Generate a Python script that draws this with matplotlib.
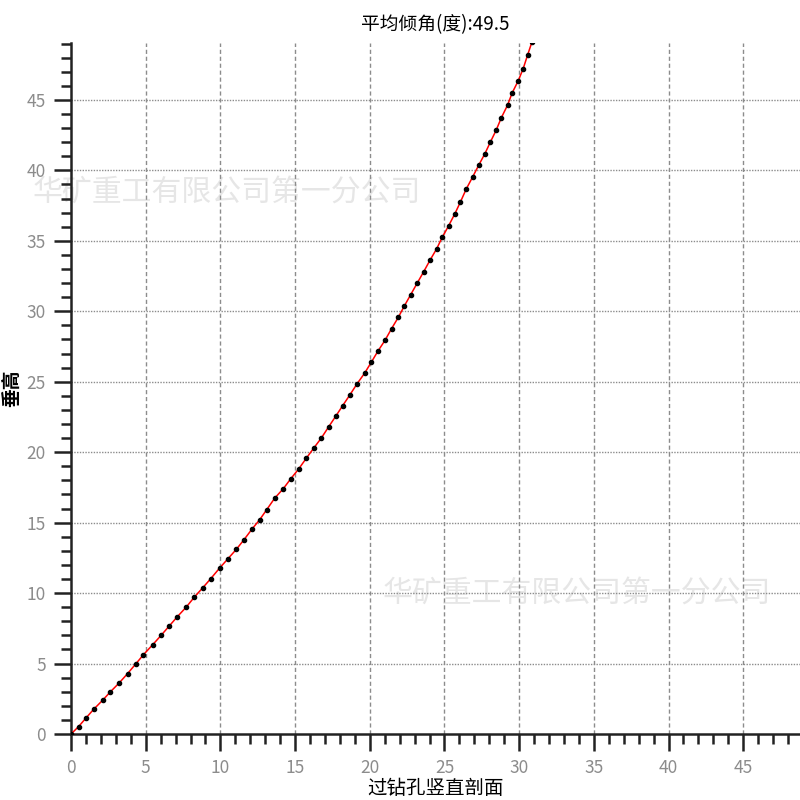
"""Borehole vertical section: horizontal offset vs vertical height."""
import matplotlib

matplotlib.use("Agg")
import matplotlib.pyplot as plt
from matplotlib.ticker import MultipleLocator

plt.rcParams["font.family"] = ["Noto Sans CJK SC", "DejaVu Sans"]

TITLE = "平均倾角(度):49.5"
XLABEL = "过钻孔竖直剖面"
YLABEL = "垂高"
WATERMARK = "华矿重工有限公司第一分公司"

# survey points (horizontal offset, vertical height)
offset = [0.0, 0.50, 1.02, 1.53, 2.11, 2.64, 3.22, 3.78, 4.33, 4.85, 5.47,
          6.03, 6.57, 7.12, 7.70, 8.26, 8.82, 9.35, 9.95, 10.49, 11.07,
          11.58, 12.12, 12.63, 13.10, 13.63, 14.21, 14.70, 15.24, 15.75,
          16.27, 16.76, 17.24, 17.72, 18.19, 18.67, 19.14, 19.65, 20.10,
          20.55, 21.02, 21.46, 21.91, 22.31, 22.74, 23.17, 23.60, 24.03,
          24.47, 24.85, 25.27, 25.70, 26.07, 26.45, 26.88, 27.30, 27.70,
          28.07, 28.46, 28.81, 29.22, 29.53, 29.93, 30.27, 30.56, 30.85]
height = [0.0, 0.52, 1.16, 1.77, 2.39, 3.00, 3.62, 4.28, 4.97, 5.63, 6.34,
          7.00, 7.66, 8.33, 8.99, 9.72, 10.38, 11.02, 11.78, 12.42, 13.11,
          13.79, 14.55, 15.21, 15.92, 16.73, 17.41, 18.10, 18.81, 19.57,
          20.32, 21.01, 21.79, 22.55, 23.31, 24.07, 24.84, 25.60, 26.38,
          27.18, 27.94, 28.77, 29.57, 30.37, 31.18, 31.99, 32.79, 33.62,
          34.42, 35.25, 36.05, 36.93, 37.76, 38.66, 39.52, 40.38, 41.17,
          42.00, 42.85, 43.74, 44.62, 45.49, 46.34, 47.22, 48.17, 49.09]

fig = plt.figure(figsize=(8, 8), dpi=100)
ax = fig.add_axes([0.0888, 0.0825, 0.9112, 0.864])

ax.set_xlim(0, 48.8)
ax.set_ylim(0, 49.05)

ax.plot(offset, height, color="red", lw=1.1, zorder=3)
ax.plot(offset, height, ls="none", marker="o", ms=3.0, color="black", zorder=4)

# grid: dashed verticals, dotted horizontals
for v in range(5, 50, 5):
    ax.axvline(v, color="#8c8c8c", lw=1.0, ls=(0, (3, 2)), zorder=1)
for h in range(5, 50, 5):
    ax.axhline(h, color="#8c8c8c", lw=1.0, ls=(0, (1, 1)), zorder=1)

for side in ("top", "right"):
    ax.spines[side].set_visible(False)
for side in ("left", "bottom"):
    ax.spines[side].set_linewidth(1.8)
    ax.spines[side].set_color("#222222")

ax.xaxis.set_major_locator(MultipleLocator(5))
ax.xaxis.set_minor_locator(MultipleLocator(1))
ax.yaxis.set_major_locator(MultipleLocator(5))
ax.yaxis.set_minor_locator(MultipleLocator(1))
ax.tick_params(which="major", direction="out", length=12, width=1.8,
               color="#222222", labelcolor="#8c8c8c", labelsize=12.5, pad=6)
ax.tick_params(which="minor", direction="out", length=7, width=1.8,
               color="#222222")

ax.set_title(TITLE, fontsize=13.5, pad=9)
ax.set_xlabel(XLABEL, fontsize=14, labelpad=1)
ax.set_ylabel(YLABEL, fontsize=13.5, fontweight="bold", labelpad=4)

for wx, wy in ((0.283, 0.760), (0.721, 0.258)):
    ax.text(wx, wy, WATERMARK, transform=fig.transFigure, fontsize=21.5,
            color="#e6e6e6", ha="center", va="center", zorder=0, clip_on=False)

fig.savefig("out.png", dpi=100)
